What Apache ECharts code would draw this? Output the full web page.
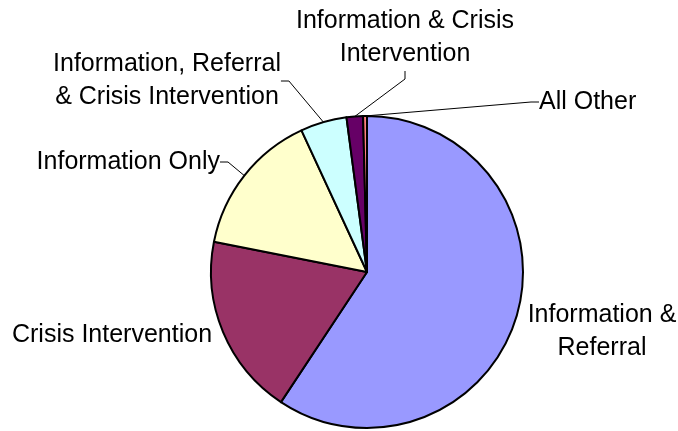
<!DOCTYPE html>
<html>
<head>
<meta charset="utf-8">
<script src="https://cdn.jsdelivr.net/npm/echarts@6/dist/echarts.min.js"></script>
<style>
  html, body { margin: 0; padding: 0; background: #fff; }
</style>
</head>
<body>
<div id="myChart" style="width:678px;height:431px;"></div>
<script>
// slice names, clockwise from 12 o'clock
var categories = [
  'Information &\nReferral',
  'Crisis Intervention',
  'Information Only',
  'Information, Referral\n& Crisis Intervention',
  'Information & Crisis\nIntervention',
  'All Other'
]
// share of calls (%)
var values = [59.3, 18.8, 15.0, 4.8, 1.7, 0.4]
var colors = ['#9999FF', '#993366', '#FFFFCC', '#CCFFFF', '#660066', '#FF8080']
var showLine = [false, false, true, true, true, true]

// where each label sits (x, y, align)
var labelPos = [
  [602, 332, 'center'],
  [112, 335, 'center'],
  [220, 162, 'right'],
  [167, 81, 'center'],
  [405, 38, 'center'],
  [539, 102, 'left']
]

var myChart = echarts.init(document.getElementById('myChart'))

var pieData = categories.map(function (name, i) {
  return {
    name: name,
    value: values[i],
    itemStyle: { color: colors[i] },
    labelLine: { show: showLine[i] }
  }
})

myChart.setOption({
  animation: false,
  series: [
    {
      type: 'pie',
      center: [367, 272],
      radius: [0, 156],
      startAngle: 90,
      clockwise: true,
      avoidLabelOverlap: false,
      emphasis: { disabled: true },
      itemStyle: {
        borderColor: '#000',
        borderWidth: 2
      },
      label: {
        show: true,
        position: 'outside',
        formatter: '{b}',
        color: '#000',
        fontFamily: '"Liberation Sans", Arial, sans-serif',
        fontSize: 25,
        lineHeight: 33,
        align: 'center'
      },
      labelLine: {
        show: true,
        length: 10,
        length2: 8,
        smooth: false,
        lineStyle: { color: '#000', width: 1 }
      },
      labelLayout: function (params) {
        var p = labelPos[params.dataIndex]
        return {
          x: p[0],
          y: p[1],
          align: p[2],
          verticalAlign: 'middle'
        }
      },
      data: pieData
    }
  ]
})
</script>
</body>
</html>
